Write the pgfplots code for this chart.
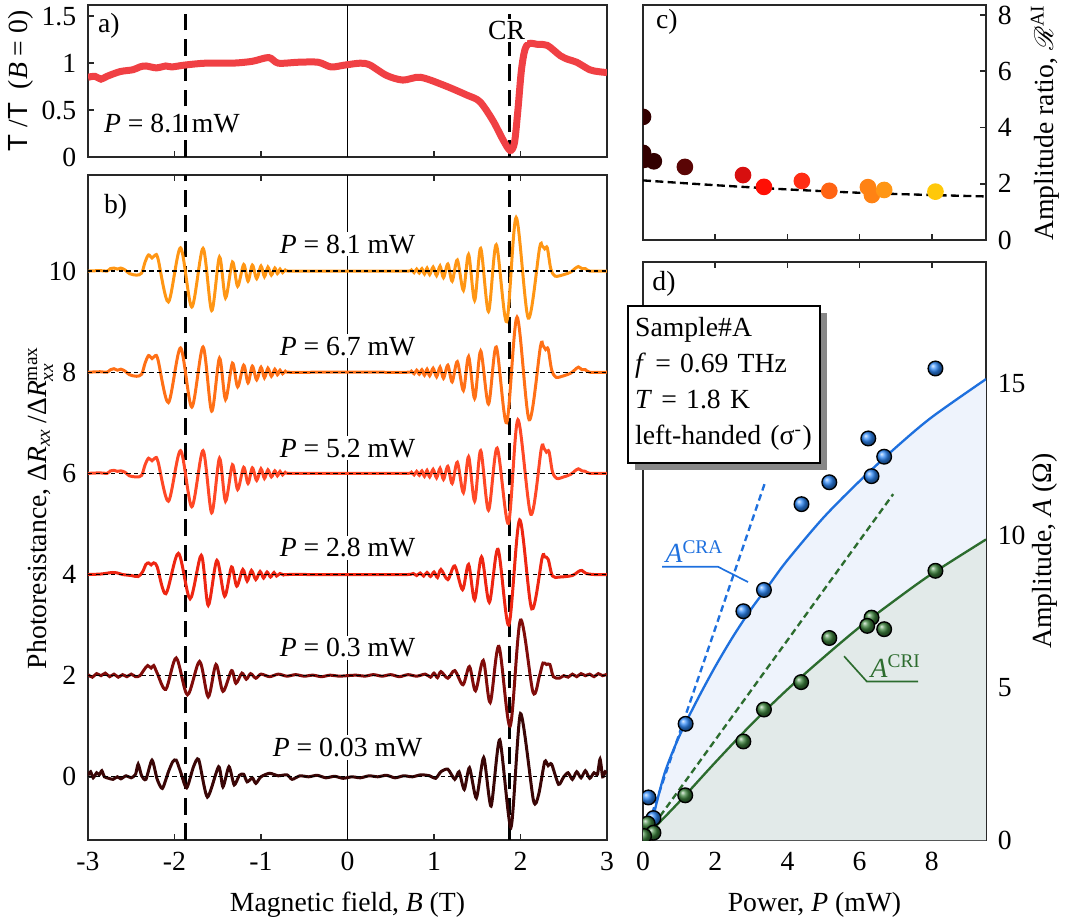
\documentclass[border=0pt]{standalone}
\usepackage{pgfplots}
\pgfplotsset{compat=1.18}
\usepackage{amsmath}
\usepackage{fontspec}
\setmainfont{Liberation Serif}
\setsansfont{Liberation Sans}
\usepackage{mathrsfs}
\usetikzlibrary{shadows}

\definecolor{axgray}{RGB}{40,40,40}
\definecolor{redA}{RGB}{240,64,68}
\definecolor{p81}{RGB}{255,150,20}
\definecolor{p67}{RGB}{255,112,22}
\definecolor{p52}{RGB}{255,72,38}
\definecolor{p28}{RGB}{238,38,18}
\definecolor{p03}{RGB}{128,12,10}
\definecolor{p003}{RGB}{58,6,6}
\definecolor{craBlue}{RGB}{30,112,222}
\definecolor{criGreen}{RGB}{44,108,46}
\definecolor{ballBlue}{RGB}{45,135,245}
\definecolor{ballGreen}{RGB}{60,130,60}
\definecolor{fillBlue}{RGB}{238,243,252}
\definecolor{fillGreen}{RGB}{226,234,233}

\newcommand{\fs}{\fontsize{8.3}{10}\selectfont}

\pgfplotsset{
  panel/.style={
    scale only axis,
    anchor=south west,
    axis line style={axgray, line width=0.6pt},
    tick align=inside,
    major tick length=1.7pt,
    tick style={axgray, line width=0.5pt},
    tick label style={font=\fs},
    label style={font=\fs},
    /pgf/number format/assume math mode=true,
    clip=true,
    clip marker paths=true,
  },
  osc/.style={line width=0.9pt, smooth},
}

\begin{document}
\begin{tikzpicture}[font=\fs]
\path[use as bounding box] (0,0) rectangle (321pt,276.9pt);

% ---------- a) transmission
\begin{axis}[panel, at={(26.4pt,229.8pt)}, width=155.7pt, height=45.6pt,
  xmin=-3, xmax=3, ymin=0, ymax=1.62,
  xtick={-3,...,3}, xticklabels={}, xtick pos=bottom,
  ytick={0,0.5,1,1.5}, ytick pos=left,
  ylabel={{\sffamily T} /{\sffamily T}\ \ (\textit{B} = 0)},
  ylabel style={at={(axis description cs:-0.129,0.5)}, anchor=center}]
\draw[black, line width=0.45pt] (axis cs:0,0) -- (axis cs:0,1.62);
\draw[black, line width=0.9pt, dash pattern=on 5pt off 2.6pt] (axis cs:-1.875,0) -- (axis cs:-1.875,1.62);
\draw[black, line width=0.9pt, dash pattern=on 5pt off 2.6pt] (axis cs:1.875,0) -- (axis cs:1.875,1.62);
\addplot[redA, line width=2.1pt, smooth] coordinates {
(-3,0.85)(-2.92,0.86)(-2.85,0.83)(-2.78,0.86)(-2.63,0.91)(-2.48,0.93)(-2.4,0.96)(-2.33,0.97)
(-2.21,0.95)(-2.1,0.97)(-2.03,0.96)(-1.88,0.98)(-1.64,1.0)(-1.33,1.0)(-1.1,1.02)(-0.91,1.06)
(-0.8,1.0)(-0.57,1.01)(-0.34,1.01)(-0.19,0.96)(-0.03,0.98)(0.15,1.0)(0.26,0.98)(0.45,0.87)
(0.64,0.82)(0.84,0.85)(1.1,0.77)(1.38,0.66)(1.53,0.59)(1.68,0.39)(1.8,0.18)(1.88,0.07)
(1.93,0.15)(1.97,0.5)(2.01,0.92)(2.05,1.14)(2.1,1.21)(2.2,1.2)(2.31,1.19)(2.46,1.08)
(2.55,1.04)(2.65,1.01)(2.8,0.93)(2.9,0.91)(3.0,0.9)
};
\node at (axis cs:-2.76,1.4) {a)};
\node at (axis cs:-2.03,0.36) {\textit{P} = 8.1 mW};
\node[fill=white, inner sep=0.6pt] at (axis cs:1.84,1.35) {CR};
\end{axis}

% ---------- b) photoresistance
\begin{axis}[panel, at={(26.4pt,24.9pt)}, width=155.7pt, height=199.5pt,
  xmin=-3, xmax=3, ymin=-1.25, ymax=11.9,
  xtick={-3,...,3}, xtick pos=both, xticklabel pos=lower,
  ytick={0,2,...,10}, ytick pos=left,
  xlabel={Magnetic field, \textit{B} (T)},
  xlabel style={at={(axis description cs:0.5,-0.098)}, anchor=center},
  ylabel={Photoresistance, Δ\textit{R}$_{\textit{xx}}$\,/Δ\textit{R}$^{\text{max}}_{\textit{xx}}$},
  ylabel style={at={(axis description cs:-0.092,0.5)}, anchor=center}]
\draw[black, line width=0.45pt] (axis cs:0,-1.25) -- (axis cs:0,11.9);
\draw[black, line width=0.9pt, dash pattern=on 5pt off 2.6pt] (axis cs:-1.875,-1.25) -- (axis cs:-1.875,11.9);
\draw[black, line width=0.9pt, dash pattern=on 5pt off 2.6pt] (axis cs:1.875,-1.25) -- (axis cs:1.875,11.9);

% P = 8.1 mW
\addplot[p81, osc] table[y expr=\thisrow{y}+10] {
x y
-3.00 0
-2.86 0.01
-2.78 0
-2.74 0.05
-2.70 0.06
-2.66 0.04
-2.62 0.06
-2.57 0.02
-2.52 -0.05
-2.44 -0.08
-2.38 -0.04
-2.34 0.18
-2.30 0.32
-2.26 0.26
-2.22 0.32
-2.19 0.24
-2.07 -0.61
-1.93 0.46
-1.80 -0.71
-1.67 0.45
-1.57 -0.78
-1.48 0.28
-1.41 -0.53
-1.33 0.18
-1.27 -0.30
-1.20 0.13
-1.15 -0.20
-1.10 0.12
-1.05 -0.15
-1.00 0.10
-0.96 -0.11
-0.92 0.08
-0.88 -0.08
-0.84 0.06
-0.81 -0.05
-0.78 0.04
-0.75 -0.03
-0.72 0.02
-0.68 0
-0.35 0
0.00 0
0.35 0
0.70 0
0.74 0.02
0.77 -0.03
0.80 0.04
0.83 -0.04
0.86 0.05
0.89 -0.06
0.92 0.06
0.95 -0.07
0.99 0.08
1.03 -0.09
1.07 0.10
1.11 -0.13
1.16 0.14
1.21 -0.20
1.27 0.22
1.34 -0.38
1.40 0.33
1.47 -0.58
1.54 0.45
1.63 -0.80
1.72 0.52
1.84 -1.0
1.95 1.06
2.09 -0.93
2.22 0.45
2.25 0.50
2.28 0.44
2.31 0.46
2.35 0.05
2.40 -0.10
2.50 -0.07
2.58 -0.02
2.63 0.05
2.67 0.09
2.71 0.05
2.75 0.05
2.80 0
3.00 0
};

% P = 6.7 mW
\addplot[p67, osc] table[y expr=\thisrow{y}+8] {
x y
-3.00 0
-2.86 0.01
-2.78 0
-2.74 0.05
-2.70 0.07
-2.66 0.04
-2.62 0.06
-2.57 0.02
-2.52 -0.05
-2.44 -0.08
-2.38 -0.04
-2.34 0.18
-2.30 0.33
-2.26 0.27
-2.22 0.33
-2.19 0.24
-2.07 -0.60
-1.93 0.48
-1.80 -0.69
-1.67 0.50
-1.57 -0.77
-1.48 0.28
-1.41 -0.54
-1.33 0.18
-1.27 -0.29
-1.20 0.14
-1.15 -0.21
-1.10 0.12
-1.05 -0.15
-1.00 0.10
-0.96 -0.11
-0.92 0.08
-0.88 -0.08
-0.84 0.06
-0.81 -0.05
-0.78 0.04
-0.75 -0.03
-0.72 0.02
-0.68 0
-0.35 0
0.00 0
0.35 0
0.70 0
0.74 0.02
0.77 -0.03
0.80 0.04
0.83 -0.04
0.86 0.05
0.89 -0.06
0.92 0.06
0.95 -0.07
0.99 0.08
1.03 -0.09
1.07 0.10
1.11 -0.12
1.16 0.14
1.21 -0.19
1.27 0.21
1.34 -0.36
1.40 0.31
1.47 -0.52
1.54 0.42
1.63 -0.63
1.72 0.50
1.84 -1.0
1.96 1.09
2.10 -0.94
2.23 0.50
2.26 0.53
2.29 0.45
2.32 0.46
2.36 0.05
2.41 -0.10
2.50 -0.07
2.58 -0.02
2.63 0.05
2.67 0.10
2.71 0.05
2.75 0.05
2.80 0
3.00 0
};

% P = 5.2 mW
\addplot[p52, osc] table[y expr=\thisrow{y}+6] {
x y
-3.00 0
-2.86 0.01
-2.78 0
-2.74 0.05
-2.70 0.06
-2.66 0.04
-2.62 0.05
-2.57 0.02
-2.52 -0.05
-2.44 -0.07
-2.38 -0.04
-2.34 0.17
-2.30 0.30
-2.26 0.25
-2.22 0.31
-2.19 0.23
-2.07 -0.55
-1.93 0.45
-1.80 -0.66
-1.67 0.45
-1.57 -0.78
-1.48 0.30
-1.41 -0.55
-1.33 0.17
-1.27 -0.32
-1.20 0.12
-1.15 -0.20
-1.10 0.11
-1.05 -0.14
-1.00 0.09
-0.96 -0.10
-0.92 0.07
-0.88 -0.07
-0.84 0.05
-0.81 -0.05
-0.78 0.04
-0.75 -0.03
-0.72 0.02
-0.68 0
-0.35 0
0.00 0
0.35 0
0.70 0
0.74 0.02
0.77 -0.03
0.80 0.04
0.83 -0.04
0.86 0.05
0.89 -0.06
0.92 0.06
0.95 -0.07
0.99 0.08
1.03 -0.09
1.07 0.10
1.11 -0.12
1.16 0.14
1.21 -0.20
1.27 0.22
1.34 -0.38
1.40 0.33
1.47 -0.55
1.54 0.45
1.63 -0.73
1.73 0.50
1.86 -0.99
1.97 1.06
2.12 -0.81
2.24 0.48
2.27 0.50
2.30 0.42
2.33 0.43
2.37 0.03
2.42 -0.10
2.50 -0.07
2.58 -0.02
2.63 0.05
2.67 0.09
2.71 0.05
2.75 0.04
2.80 0
3.00 0
};

% P = 2.8 mW
\addplot[p28, osc] table[y expr=\thisrow{y}+4] {
x y
-3.00 0
-2.85 0.01
-2.72 0.04
-2.66 0.03
-2.60 0.0
-2.50 -0.02
-2.42 -0.04
-2.37 0.05
-2.33 0.20
-2.30 0.23
-2.27 0.19
-2.24 0.23
-2.20 0.15
-2.10 -0.38
-1.955 0.42
-1.82 -0.48
-1.69 0.38
-1.61 -0.61
-1.51 0.28
-1.42 -0.43
-1.34 0.15
-1.28 -0.23
-1.21 0.10
-1.16 -0.13
-1.11 0.08
-1.06 -0.10
-1.01 0.06
-0.97 -0.07
-0.93 0.05
-0.89 -0.05
-0.85 0.04
-0.82 -0.03
-0.78 0.02
-0.74 -0.01
-0.70 0
-0.35 0
0.00 0
0.35 0
0.70 0
0.76 0.02
0.80 -0.02
0.84 0.03
0.88 -0.03
0.92 0.04
0.96 -0.04
1.00 0.05
1.04 -0.06
1.08 0.10
1.16 -0.10
1.24 0.17
1.33 -0.30
1.40 0.20
1.47 -0.50
1.55 0.35
1.64 -0.55
1.74 0.50
1.865 -1.0
1.99 1.08
2.13 -0.68
2.25 0.33
2.28 0.35
2.32 0.30
2.37 -0.03
2.45 -0.05
2.60 -0.02
2.67 0.06
2.71 0.08
2.76 0.02
2.85 0
3.00 0
};

% P = 0.3 mW
\addplot[p03, osc] table[y expr=\thisrow{y}+2] {
x y
-3.00 0.02
-2.95 -0.03
-2.90 0.04
-2.85 0.00
-2.80 0.05
-2.75 -0.02
-2.70 0.03
-2.65 -0.03
-2.60 0.02
-2.55 -0.02
-2.50 0.03
-2.45 -0.02
-2.40 0.00
-2.35 0.12
-2.31 0.20
-2.27 0.15
-2.24 0.20
-2.20 0.05
-2.10 -0.27
-1.98 0.35
-1.85 -0.38
-1.71 0.28
-1.61 -0.42
-1.52 0.22
-1.44 -0.31
-1.34 0.10
-1.29 -0.15
-1.22 0.05
-1.17 -0.07
-1.12 0.04
-1.06 -0.05
-1.00 0.03
-0.90 -0.02
-0.80 0.03
-0.70 -0.01
-0.60 0.02
-0.50 -0.01
-0.40 0.01
-0.30 -0.02
-0.20 0.01
-0.10 -0.01
0.00 0.00
0.10 0.01
0.20 -0.01
0.30 0.02
0.40 -0.01
0.50 0.02
0.60 -0.02
0.70 0.02
0.80 -0.01
0.90 0.03
0.96 -0.03
1.00 0.05
1.04 -0.04
1.08 0.08
1.16 -0.05
1.24 0.10
1.335 -0.18
1.41 0.18
1.48 -0.30
1.57 0.30
1.65 -0.53
1.75 0.58
1.88 -1.0
2.00 1.10
2.145 -0.33
2.22 0.0
2.26 0.25
2.30 0.22
2.34 0.22
2.38 -0.02
2.45 -0.05
2.50 0.00
2.55 -0.03
2.60 0.03
2.65 -0.02
2.70 0.04
2.75 0.00
2.80 0.03
2.85 -0.02
2.90 0.04
2.95 0.00
3.00 0.03
};

% P = 0.03 mW
\addplot[p003, osc, tension=0.4] table {
x y
-3.00 0.03
-2.97 0.10
-2.94 -0.02
-2.90 0.08
-2.87 0.04
-2.84 0.12
-2.81 0.00
-2.76 -0.03
-2.71 -0.05
-2.66 0.00
-2.62 -0.04
-2.56 0.02
-2.50 -0.02
-2.45 0.05
-2.42 0.25
-2.38 0.02
-2.33 -0.05
-2.26 0.33
-2.20 -0.05
-2.14 -0.23
-2.07 0.10
-2.02 0.30
-1.98 0.33
-1.93 0.10
-1.86 -0.22
-1.78 0.20
-1.72 0.34
-1.62 -0.40
-1.49 0.20
-1.44 -0.20
-1.37 0.20
-1.31 -0.16
-1.25 0.03
-1.20 0.05
-1.16 -0.10
-1.10 -0.02
-1.06 -0.13
-1.00 0.00
-0.90 0.07
-0.80 0.02
-0.70 0.04
-0.64 -0.05
-0.55 0.02
-0.45 0.00
-0.35 0.03
-0.25 -0.02
-0.15 0.01
-0.05 -0.03
0.05 0.00
0.15 -0.02
0.25 0.02
0.35 0.00
0.45 0.03
0.55 -0.02
0.65 0.02
0.75 0.00
0.85 0.04
0.95 0.02
1.02 -0.03
1.08 0.10
1.16 0.15
1.24 -0.05
1.29 0.10
1.35 -0.25
1.41 0.18
1.49 -0.42
1.575 0.38
1.66 -0.58
1.76 0.73
1.89 -1.0
2.00 1.25
2.15 -0.47
2.21 -0.35
2.28 0.30
2.32 0.22
2.36 0.25
2.44 -0.15
2.50 0.00
2.55 0.08
2.60 -0.05
2.65 0.10
2.70 -0.02
2.75 0.12
2.80 -0.03
2.85 0.08
2.89 0.05
2.92 0.35
2.95 0.00
2.98 0.10
3.00 0.07
};

\pgfplotsinvokeforeach{0,2,4,6,8,10}{
  \draw[black, line width=0.4pt, dash pattern=on 1.3pt off 1pt] (axis cs:-3,#1) -- (axis cs:3,#1);
}
\node[anchor=west] at (axis cs:-2.95,11.28) {b)};
\node[fill=white, inner sep=0.8pt] at (axis cs:0,10.53) {\textit{P} = 8.1 mW};
\node[fill=white, inner sep=0.8pt] at (axis cs:0,8.51) {\textit{P} = 6.7 mW};
\node[fill=white, inner sep=0.8pt] at (axis cs:0,6.50) {\textit{P} = 5.2 mW};
\node[fill=white, inner sep=0.8pt] at (axis cs:0,4.53) {\textit{P} = 2.8 mW};
\node[fill=white, inner sep=0.8pt] at (axis cs:0,2.55) {\textit{P} = 0.3 mW};
\node[fill=white, inner sep=0.8pt] at (axis cs:0,0.58) {\textit{P} = 0.03 mW};
\end{axis}

% ---------- c) amplitude ratio
\begin{axis}[panel, at={(192.9pt,204.9pt)}, width=102.9pt, height=70.5pt,
  xmin=0, xmax=9.5, ymin=0, ymax=8.36,
  xtick={0,2,4,6,8}, xticklabels={}, xtick pos=bottom,
  ytick={0,2,4,6,8}, ytick pos=right, yticklabel pos=right,
  ylabel={Amplitude ratio, $\mathscr{R}^{\text{AI}}$},
  ylabel style={at={(axis description cs:1.172,0.5)}, anchor=center}]
\addplot[black, line width=0.7pt, dash pattern=on 2.4pt off 1.3pt, smooth] coordinates {
(0,2.12)(2,1.95)(4,1.8)(6,1.68)(8,1.6)(9.5,1.55)};
\pgfplotsset{cdot/.style={only marks, mark=*, mark size=2.3pt}}
\addplot[cdot, color={rgb,255:red,50;green,0;blue,0}] coordinates {(0.0,4.38)(0.0,3.1)(0.03,2.85)(0.3,2.8)};
\addplot[cdot, color={rgb,255:red,90;green,5;blue,5}] coordinates {(1.16,2.6)};
\addplot[cdot, color={rgb,255:red,215;green,15;blue,15}] coordinates {(2.77,2.31)};
\addplot[cdot, color={rgb,255:red,255;green,15;blue,5}] coordinates {(3.35,1.89)};
\addplot[cdot, color={rgb,255:red,255;green,45;blue,20}] coordinates {(4.4,2.1)};
\addplot[cdot, color={rgb,255:red,255;green,100;blue,20}] coordinates {(5.16,1.75)};
\addplot[cdot, color={rgb,255:red,255;green,130;blue,20}] coordinates {(6.23,1.88)(6.34,1.6)};
\addplot[cdot, color={rgb,255:red,255;green,150;blue,20}] coordinates {(6.68,1.78)};
\addplot[cdot, color={rgb,255:red,255;green,200;blue,10}] coordinates {(8.1,1.72)};
\node at (axis cs:0.66,7.76) {c)};
\end{axis}

% ---------- d) amplitudes
\begin{axis}[panel, at={(192.9pt,24.9pt)}, width=102.9pt, height=173.4pt,
  xmin=0, xmax=9.5, ymin=0, ymax=19,
  xtick={0,2,4,6,8}, xtick pos=both, xticklabel pos=lower,
  ytick={0,5,10,15}, ytick pos=right, yticklabel pos=right,
  xlabel={Power, \textit{P} (mW)},
  xlabel style={at={(axis description cs:0.5,-0.113)}, anchor=center},
  ylabel={Amplitude, \textit{A} (Ω)},
  ylabel style={at={(axis description cs:1.172,0.5)}, anchor=center}]
\addplot[draw=none, fill=fillBlue, smooth] coordinates {
(0.29,0.8)(0.6,2.2)(1.0,3.4)(1.5,4.6)(2.0,5.7)(2.5,6.7)(3.0,7.6)(3.5,8.4)(4.0,9.2)
(5.0,10.6)(6.0,11.8)(7.0,12.9)(8.0,13.9)(9.5,15.15)} \closedcycle;
\addplot[draw=none, fill=fillGreen, smooth] coordinates {
(0.35,0.45)(1.0,1.25)(2.0,2.55)(3.0,3.8)(4.0,4.95)(5.0,6.0)(6.0,7.0)(7.0,7.9)(8.0,8.75)(9.5,9.88)} \closedcycle;
\addplot[craBlue, line width=0.7pt, smooth] coordinates {
(0.29,0.8)(0.6,2.2)(1.0,3.4)(1.5,4.6)(2.0,5.7)(2.5,6.7)(3.0,7.6)(3.5,8.4)(4.0,9.2)
(5.0,10.6)(6.0,11.8)(7.0,12.9)(8.0,13.9)(9.5,15.15)};
\addplot[criGreen, line width=0.7pt, smooth] coordinates {
(0.35,0.45)(1.0,1.25)(2.0,2.55)(3.0,3.8)(4.0,4.95)(5.0,6.0)(6.0,7.0)(7.0,7.9)(8.0,8.75)(9.5,9.88)};
\addplot[craBlue, line width=0.7pt, dash pattern=on 2pt off 1.2pt] coordinates {(0.25,0.87)(3.38,11.75)};
\addplot[criGreen, line width=0.7pt, dash pattern=on 2pt off 1.2pt] coordinates {(0.3,0.5)(6.93,11.37)};
\addplot[only marks, mark=ball, mark size=2.2pt, mark options={ball color=ballBlue}] coordinates {
(8.1,15.5)(6.24,13.2)(6.68,12.6)(6.33,11.96)(5.16,11.76)(4.39,11.04)(3.35,8.22)(2.78,7.52)
(1.18,3.82)(0.15,1.40)(0.29,0.72)};
\addplot[only marks, mark=ball, mark size=2.2pt, mark options={ball color=ballGreen}] coordinates {
(8.1,8.85)(6.33,7.31)(6.21,7.04)(6.68,6.93)(5.16,6.64)(4.38,5.19)(3.35,4.29)(2.78,3.24)
(1.17,1.47)(0.13,0.54)(0.29,0.24)(0.03,0.13)};
\draw[craBlue, line width=0.5pt] (axis cs:0.53,8.98) -- (axis cs:2.08,8.98) -- (axis cs:2.91,8.48);
\node[craBlue, anchor=south west, inner sep=0.6pt] at (axis cs:0.55,9.02) {\textit{A}\textsuperscript{CRA}};
\draw[criGreen, line width=0.5pt] (axis cs:5.57,6.04) -- (axis cs:6.2,5.21) -- (axis cs:7.62,5.21);
\node[criGreen, anchor=south west, inner sep=0.6pt] at (axis cs:6.23,5.26) {\textit{A}\textsuperscript{CRI}};
\node at (axis cs:0.58,18.28) {d)};
\end{axis}

% ---------- info box
\node[draw=black, line width=0.5pt, fill=white,
  drop shadow={shadow xshift=2.1pt, shadow yshift=-2.1pt, fill=black!47, opacity=1},
  anchor=north west, minimum height=47.1pt, text width=53.2pt, inner xsep=2.2pt,
  align=left, font=\fontsize{8.3}{10.8}\selectfont]
  at (188.1pt,185.4pt)
  {Sample\#A\\ \textit{f} = 0.69 THz\\ \textit{T} = 1.8 K\\ left-handed (σ\textsuperscript{-})};
\end{tikzpicture}
\end{document}
